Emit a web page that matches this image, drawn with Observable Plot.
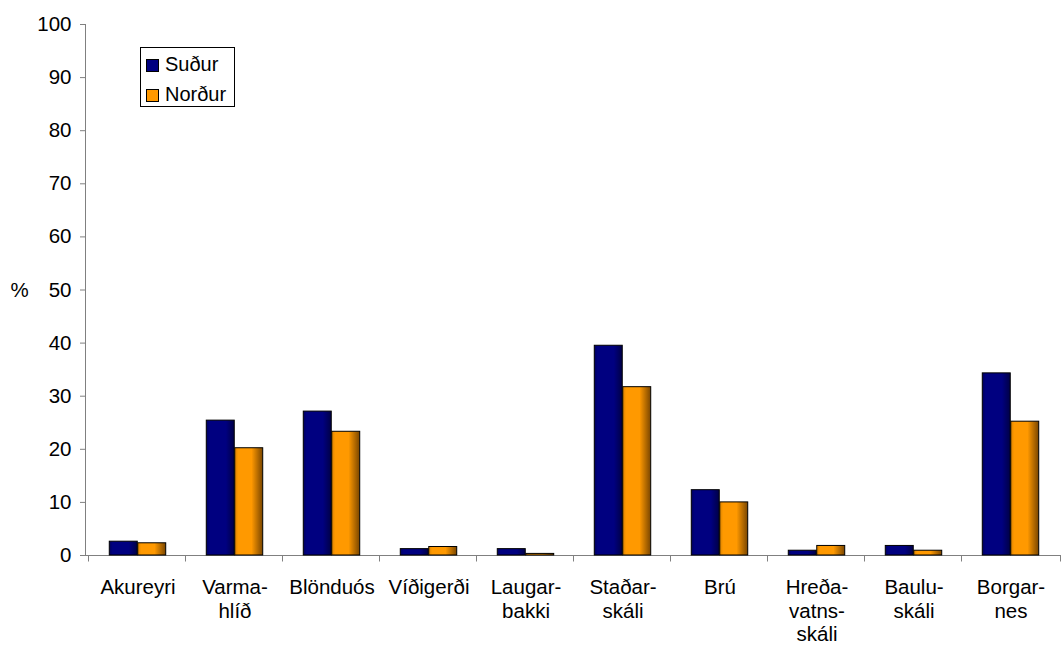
<!DOCTYPE html>
<html>
<head>
<meta charset="utf-8">
<script src="https://cdn.jsdelivr.net/npm/d3@7"></script>
<script src="https://cdn.jsdelivr.net/npm/@observablehq/plot@0.6"></script>
<style>
  html, body { margin: 0; padding: 0; background: #fff; }
  #chart { position: relative; width: 1062px; height: 646px; font-family: Arial, "Liberation Sans", sans-serif; }
  #chart svg { display: block; }
  .legend { position: absolute; left: 140px; top: 47px; width: 95px; height: 60px; box-sizing: border-box; border: 1px solid #000; background: #fff; }
  .legend .row { position: absolute; left: 5px; height: 24px; line-height: 24px; font-size: 20px; white-space: nowrap; color: #000; }
  .legend .sw { position: absolute; left: 0; top: 7px; width: 13px; height: 13px; box-sizing: border-box; border: 1px solid #000; }
  .legend .lab { position: absolute; left: 19px; top: 0; }
</style>
</head>
<body>
<div id="chart"></div>
<script>
// Stopping places along the route (labels hyphenated as printed)
const sites = ["Akureyri", "Varma-\nhlíð", "Blönduós", "Víðigerði", "Laugar-\nbakki",
               "Staðar-\nskáli", "Brú", "Hreða-\nvatns-\nskáli", "Baulu-\nskáli", "Borgar-\nnes"];
// Share (%) stopping, by direction of travel
const sudur  = [2.6, 25.4, 27.1, 1.2, 1.2, 39.5, 12.3, 0.9, 1.8, 34.3];
const nordur = [2.3, 20.2, 23.3, 1.6, 0.3, 31.7, 10.0, 1.8, 0.9, 25.2];
const seriesNames  = ["Suður", "Norður"];
const seriesColors = ["#000080", "#ff9900"];
const yTicks = [0, 10, 20, 30, 40, 50, 60, 70, 80, 90, 100];

const W = 1062, H = 646;
const mL = 86, mR = 1, mT = 24, mB = 91;
const step = (W - mL - mR) / sites.length;
const barW = step * 0.292;
const gap = (step - 2 * barW) / 2;

const rows = sites.map((site, i) => ({site, sudur: sudur[i], nordur: nordur[i]}));

// Horizontal shading for the bars
function gradients() {
  const defs = d3.create("svg:defs");
  const stops = {
    fillSudur: [[0, "#00005c"], [0.12, "#000080"], [0.7, "#000080"], [1, "#000046"]],
    fillNordur: [[0, "#d98200"], [0.12, "#ff9900"], [0.6, "#ff9900"], [1, "#7a4600"]]
  };
  for (const [id, list] of Object.entries(stops)) {
    const g = defs.append("linearGradient").attr("id", id).attr("x1", 0).attr("x2", 1).attr("y1", 0).attr("y2", 0);
    for (const [o, c] of list) g.append("stop").attr("offset", o).attr("stop-color", c);
  }
  return defs.node();
}

// Axis lines and category boundary ticks
function axisLines(index, {x, y}) {
  const g = d3.create("svg:g").attr("stroke", "#808080").attr("stroke-width", 1).attr("fill", "none");
  const [x0, x1] = x.range();
  const y0 = Math.round(y(0)) + 0.5;
  const xl = Math.round(x0) - 0.5;
  g.append("path").attr("d", `M${xl},${y(100)}V${y0}`);
  g.append("path").attr("d", `M${xl},${y0}H${x1}`);
  const edges = x.domain().map(d => x(d)).concat([x1]);
  for (const e of edges) {
    const xe = Math.round(e) - 0.5;
    g.append("path").attr("d", `M${xe},${y0}V${y0 + 6}`);
  }
  return g.node();
}

const plot = Plot.plot({
  width: W,
  height: H,
  marginLeft: mL,
  marginRight: mR,
  marginTop: mT,
  marginBottom: mB,
  style: {fontFamily: "Arial, 'Liberation Sans', sans-serif", fontSize: "20.5px", color: "#000", background: "#fff"},
  x: {domain: sites, padding: 0, label: null},
  y: {domain: [0, 100], label: null},
  marks: [
    gradients,
    axisLines,
    Plot.axisY({ticks: yTicks, tickSize: 6, tickPadding: 9, stroke: "#808080", fill: "#000", label: null}),
    Plot.axisX({tickSize: 0, tickPadding: 21, lineHeight: 1.17, fill: "#000", label: null}),
    Plot.text(["%"], {frameAnchor: "left", dx: -67, textAnchor: "middle", fill: "#000"}),
    Plot.barY(rows, {x: "site", y: "sudur", fill: "url(#fillSudur)", stroke: "#000", strokeWidth: 1,
                     insetLeft: gap, insetRight: gap + barW}),
    Plot.barY(rows, {x: "site", y: "nordur", fill: "url(#fillNordur)", stroke: "#000", strokeWidth: 1,
                     insetLeft: gap + barW, insetRight: gap})
  ]
});

const chart = document.getElementById("chart");
chart.appendChild(plot);

// Legend box
const legend = document.createElement("div");
legend.className = "legend";
seriesNames.forEach((name, i) => {
  const row = document.createElement("div");
  row.className = "row";
  row.style.top = (4 + i * 30) + "px";
  const sw = document.createElement("span");
  sw.className = "sw";
  sw.style.background = seriesColors[i];
  const lab = document.createElement("span");
  lab.className = "lab";
  lab.textContent = name;
  row.appendChild(sw);
  row.appendChild(lab);
  legend.appendChild(row);
});
chart.appendChild(legend);
</script>
</body>
</html>
